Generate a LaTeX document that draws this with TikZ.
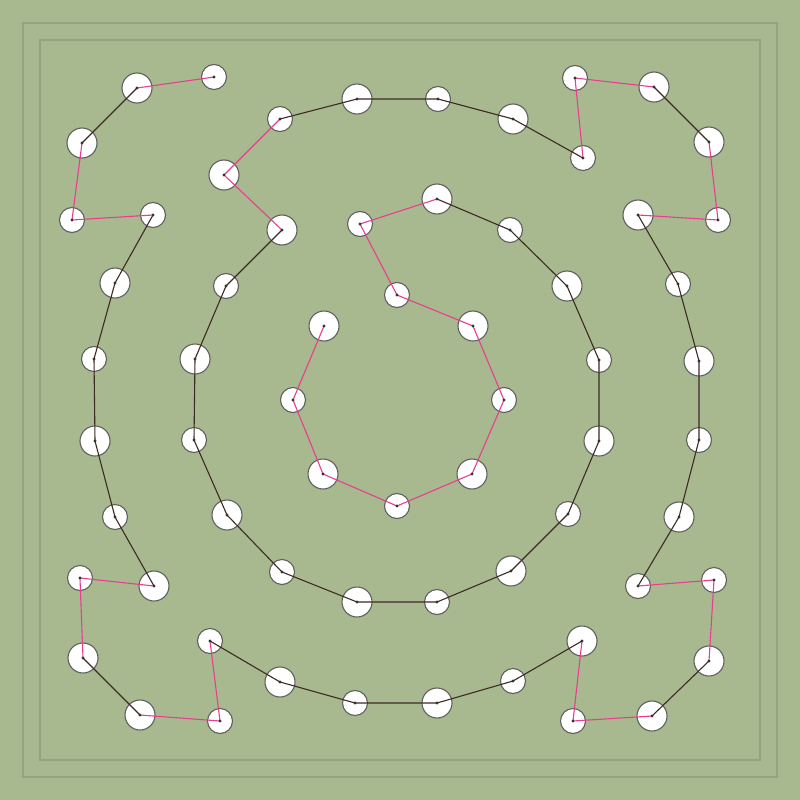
\documentclass[tikz,border=0pt]{standalone}
\usepackage{tikz}

\definecolor{meadow}{RGB}{168,185,143}
\definecolor{hedge}{RGB}{148,164,124}
\definecolor{rim}{RGB}{95,95,95}
\definecolor{twine}{RGB}{62,42,36}
\definecolor{hop}{RGB}{232,62,142}

\tikzset{
  bigpin/.style={circle,draw=rim,line width=1.1,fill=white,minimum size=30pt,inner sep=0pt},
  smallpin/.style={circle,draw=rim,line width=1.1,fill=white,minimum size=25pt,inner sep=0pt},
  ringline/.style={line width=1.1,color=twine},
  hopline/.style={line width=1.1,color=hop}
}

\begin{document}
\begin{tikzpicture}[x=1pt,y=-1pt]
            % background and frames
            \fill [meadow] (0,0) rectangle (800,800);
            \useasboundingbox (0,0) rectangle (800,800);
            \draw [line width=1.2, hedge] (23,23) rectangle (777,777);
            \draw [line width=1.2, hedge] (40,40) rectangle (760,760);
            % inner ring
            \node [bigpin] (p1) at (324,326) {};
            \node [smallpin] (p2) at (293,400) {};
            \node [bigpin] (p3) at (323,474) {};
            \node [smallpin] (p4) at (397,506) {};
            \node [bigpin] (p5) at (472,474) {};
            \node [smallpin] (p6) at (504,400) {};
            \node [bigpin] (p7) at (473,326) {};
            \node [smallpin] (p8) at (397,295) {};
            \node [smallpin] (p9) at (360,224) {};
            % middle ring
            \node [bigpin] (p10) at (437,199) {};
            \node [smallpin] (p11) at (510,230) {};
            \node [bigpin] (p12) at (567,286) {};
            \node [smallpin] (p13) at (599,360) {};
            \node [bigpin] (p14) at (599,441) {};
            \node [smallpin] (p15) at (568,514) {};
            \node [bigpin] (p16) at (511,571) {};
            \node [smallpin] (p17) at (437,602) {};
            \node [bigpin] (p18) at (357,602) {};
            \node [smallpin] (p19) at (282,572) {};
            \node [bigpin] (p20) at (227,515) {};
            \node [smallpin] (p21) at (194,440) {};
            \node [bigpin] (p22) at (195,359) {};
            \node [smallpin] (p23) at (226,286) {};
            \node [bigpin] (p24) at (282,230) {};
            % top arc
            \node [bigpin] (p25) at (224,175) {};
            \node [smallpin] (p26) at (280,119) {};
            \node [bigpin] (p27) at (357,99) {};
            \node [smallpin] (p28) at (438,99) {};
            \node [bigpin] (p29) at (513,119) {};
            \node [smallpin] (p30) at (583,158) {};
            % right side
            \node [smallpin] (p31) at (575,78) {};
            \node [bigpin] (p32) at (654,87) {};
            \node [bigpin] (p33) at (709,142) {};
            \node [smallpin] (p34) at (718,220) {};
            \node [bigpin] (p35) at (638,215) {};
            \node [smallpin] (p36) at (678,284) {};
            \node [bigpin] (p37) at (699,361) {};
            \node [smallpin] (p38) at (699,440) {};
            \node [bigpin] (p39) at (679,517) {};
            \node [smallpin] (p40) at (638,586) {};
            \node [smallpin] (p41) at (714,580) {};
            \node [bigpin] (p42) at (709,661) {};
            \node [bigpin] (p43) at (652,716) {};
            \node [smallpin] (p44) at (573,721) {};
            % bottom arc
            \node [bigpin] (p45) at (582,641) {};
            \node [smallpin] (p46) at (513,681) {};
            \node [bigpin] (p47) at (437,703) {};
            \node [smallpin] (p48) at (355,703) {};
            \node [bigpin] (p49) at (280,682) {};
            \node [smallpin] (p50) at (210,641) {};
            % left side
            \node [smallpin] (p51) at (220,721) {};
            \node [bigpin] (p52) at (140,715) {};
            \node [bigpin] (p53) at (83,658) {};
            \node [smallpin] (p54) at (80,578) {};
            \node [bigpin] (p55) at (154,586) {};
            \node [smallpin] (p56) at (115,517) {};
            \node [bigpin] (p57) at (95,441) {};
            \node [smallpin] (p58) at (94,359) {};
            \node [bigpin] (p59) at (115,283) {};
            \node [smallpin] (p60) at (153,215) {};
            \node [smallpin] (p61) at (72,220) {};
            \node [bigpin] (p62) at (82,143) {};
            \node [bigpin] (p63) at (137,88) {};
            \node [smallpin] (p64) at (214,77) {};
            % hops between rings
            \draw [hopline] (p1.center) -- (p2.center) -- (p3.center) -- (p4.center) -- (p5.center) -- (p6.center) -- (p7.center) -- (p8.center) -- (p9.center) -- (p10.center);
            \draw [hopline] (p24.center) -- (p25.center) -- (p26.center);
            \draw [hopline] (p30.center) -- (p31.center) -- (p32.center);
            \draw [hopline] (p33.center) -- (p34.center) -- (p35.center);
            \draw [hopline] (p40.center) -- (p41.center) -- (p42.center);
            \draw [hopline] (p43.center) -- (p44.center) -- (p45.center);
            \draw [hopline] (p50.center) -- (p51.center) -- (p52.center);
            \draw [hopline] (p53.center) -- (p54.center) -- (p55.center);
            \draw [hopline] (p60.center) -- (p61.center) -- (p62.center);
            \draw [hopline] (p63.center) -- (p64.center);
            % ring segments
            \draw [ringline] (p10.center) -- (p11.center) -- (p12.center) -- (p13.center) -- (p14.center) -- (p15.center) -- (p16.center) -- (p17.center) -- (p18.center) -- (p19.center) -- (p20.center) -- (p21.center) -- (p22.center) -- (p23.center) -- (p24.center);
            \draw [ringline] (p26.center) -- (p27.center) -- (p28.center) -- (p29.center) -- (p30.center);
            \draw [ringline] (p32.center) -- (p33.center);
            \draw [ringline] (p35.center) -- (p36.center) -- (p37.center) -- (p38.center) -- (p39.center) -- (p40.center);
            \draw [ringline] (p42.center) -- (p43.center);
            \draw [ringline] (p45.center) -- (p46.center) -- (p47.center) -- (p48.center) -- (p49.center) -- (p50.center);
            \draw [ringline] (p52.center) -- (p53.center);
            \draw [ringline] (p55.center) -- (p56.center) -- (p57.center) -- (p58.center) -- (p59.center) -- (p60.center);
            \draw [ringline] (p62.center) -- (p63.center);
            % center dots
            \foreach \i in {1,...,64}
                \fill [black!80] (p\i.center) circle (1.6);
         \end{tikzpicture}
\end{document}
